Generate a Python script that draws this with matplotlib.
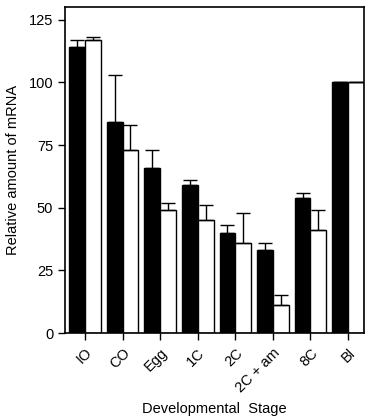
import numpy as np
import matplotlib
matplotlib.use("Agg")
import matplotlib.pyplot as plt
import matplotlib.transforms as mtransforms

plt.rcParams['font.family'] = ['Liberation Sans', 'DejaVu Sans']

# data
stages = ['IO', 'CO', 'Egg', '1C', '2C', '2C + am', '8C', 'Bl']
black_vals = [114, 84, 66, 59, 40, 33, 54, 100]
black_err = [3, 19, 7, 2, 3, 3, 2, 0]
white_vals = [117, 73, 49, 45, 36, 11, 41, 100]
white_err = [1, 10, 3, 6, 12, 4, 8, 0]

x = np.arange(len(stages))
w = 0.42

fig = plt.figure(figsize=(3.72, 4.2), dpi=100)
ax = fig.add_axes([0.175, 0.207, 0.803, 0.776])

err_kw = dict(capsize=5, elinewidth=1.0, capthick=1.0, ecolor='black')
ax.bar(x - w / 2, black_vals, w, color='black', edgecolor='black', linewidth=1.0,
       yerr=[np.zeros(len(x)), black_err], error_kw=err_kw)
ax.bar(x + w / 2, white_vals, w, color='white', edgecolor='black', linewidth=1.0,
       yerr=[np.zeros(len(x)), white_err], error_kw=err_kw)

ax.set_xlim(-0.53, 7.42)
ax.set_ylim(0, 130)
ax.set_yticks([0, 25, 50, 75, 100, 125])
ax.set_xticks(x)
ax.set_xticklabels(stages, rotation=45, ha='right', va='top', rotation_mode='anchor')

# nudge the rotated labels a little to the right, like the original
shift = mtransforms.ScaledTranslation(5 / 72, 0, fig.dpi_scale_trans)
for lbl in ax.get_xticklabels():
    lbl.set_transform(lbl.get_transform() + shift)

ax.tick_params(axis='both', direction='out', length=5, width=1.0, labelsize=10.5)
ax.tick_params(axis='x', pad=4)
for s in ax.spines.values():
    s.set_linewidth(1.2)

ax.set_ylabel('Relative amount of mRNA', fontsize=10.5, labelpad=6)
ax.set_xlabel('Developmental  Stage', fontsize=10.5, labelpad=5)

fig.savefig('out.png', dpi=100)
